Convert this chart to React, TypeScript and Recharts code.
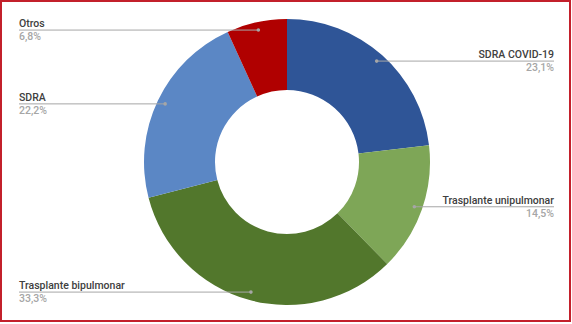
import React from "react"
import { PieChart, Pie, Cell } from "recharts"

const categories = [
  "SDRA COVID-19",
  "Trasplante unipulmonar",
  "Trasplante bipulmonar",
  "SDRA",
  "Otros",
]
const shares = [23.1, 14.5, 33.3, 22.2, 6.8]
const colors = ["#2F5597", "#7EA657", "#52772C", "#5B87C5", "#B00000"]

const data = categories.map((name, i) => ({ name, value: shares[i] }))

const RADIAN = Math.PI / 180

const renderLabel = (props: any) => {
  const { cx, cy, midAngle, outerRadius, name, value } = props
  const r = outerRadius - 8
  const x = cx + r * Math.cos(-midAngle * RADIAN)
  const y = cy + r * Math.sin(-midAngle * RADIAN)
  const right = x > cx
  const endX = right ? 554 : 19
  const anchor = right ? "end" : "start"
  return (
    <g>
      <line x1={x} y1={y} x2={endX} y2={y} stroke="#A6A6A6" strokeWidth={1} />
      <circle cx={x} cy={y} r={1.8} fill="#A6A6A6" />
      <text
        x={endX}
        y={y - 3}
        textAnchor={anchor}
        fontSize={10.5}
        fontWeight={500}
        fill="#404040"
      >
        {name}
      </text>
      <text
        x={endX}
        y={y + 10}
        textAnchor={anchor}
        fontSize={10.5}
        fontWeight={500}
        fill="#A6A6A6"
      >
        {value.toFixed(1).replace(".", ",") + "%"}
      </text>
    </g>
  )
}

export default function App() {
  return (
    <div
      style={{
        position: "absolute",
        left: 0,
        top: 0,
        width: 572,
        height: 324,
        background: "#fff",
        fontFamily: "Roboto, sans-serif",
      }}
    >
      <div
        style={{
          position: "absolute",
          left: 0,
          top: 0,
          width: 567,
          height: 318,
          border: "2px solid #C3202B",
          pointerEvents: "none",
        }}
      />
      <PieChart
        width={572}
        height={324}
        margin={{ top: 0, right: 0, bottom: 0, left: 0 }}
      >
        <Pie
          data={data}
          dataKey="value"
          nameKey="name"
          cx={287}
          cy={162}
          innerRadius={72}
          outerRadius={143}
          startAngle={90}
          endAngle={-270}
          stroke="none"
          label={renderLabel}
          labelLine={false}
          isAnimationActive={false}
        >
          {data.map((d, i) => (
            <Cell key={d.name} fill={colors[i]} />
          ))}
        </Pie>
      </PieChart>
    </div>
  )
}
